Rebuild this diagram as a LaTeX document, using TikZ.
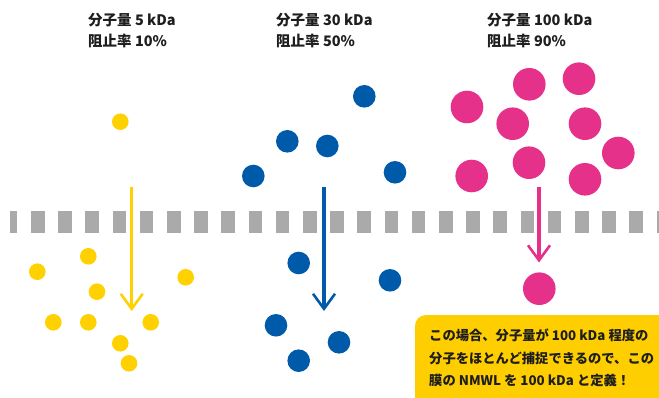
\documentclass[tikz,border=0pt]{standalone}
\usepackage{fontspec}
\setmainfont{Noto Sans CJK JP}
\usetikzlibrary{arrows.meta}
\definecolor{cyel}{RGB}{255,209,0}
\definecolor{cblue}{RGB}{0,90,170}
\definecolor{cpink}{RGB}{229,49,138}
\definecolor{cgray}{RGB}{170,170,170}
\definecolor{cbox}{RGB}{255,206,0}
\definecolor{ctext}{RGB}{30,30,30}
\tikzset{
  ydot/.style={circle,fill=cyel,inner sep=0pt,minimum size=16.6pt},
  bdot/.style={circle,fill=cblue,inner sep=0pt,minimum size=22.6pt},
  pdot/.style={circle,fill=cpink,inner sep=0pt,minimum size=32.6pt},
  pore/.style={fill=cgray},
  flow/.style={line width=3.2pt,-{Straight Barb[length=15pt,width=22pt,line width=2.6pt]}},
  head/.style={anchor=north west,align=left,font=\fontsize{14.5pt}{20.7pt}\selectfont\bfseries,text=ctext,inner sep=0pt},
  note/.style={anchor=north west,align=left,font=\fontsize{13.3pt}{22.5pt}\selectfont\bfseries,text=ctext,inner sep=0pt}
}
\begin{document}
\begin{tikzpicture}[x=1pt,y=-1pt]
\useasboundingbox (0,0) rectangle (659,398);
% membrane
\fill[pore] (10,211) rectangle (17.3,233.5);
\foreach \k in {0,...,23}{
  \fill[pore] ({31+27.2*\k},211) rectangle ({44.5+27.2*\k},233.5);
}
% headings
\node[head] (h1) at (88,13) {分子量 5 kDa\\阻止率 10\%};
\node[head] (h2) at (276,13) {分子量 30 kDa\\阻止率 50\%};
\node[head] (h3) at (487,13) {分子量 100 kDa\\阻止率 90\%};
% yellow
\node[ydot] (y1) at (120.3,121.7) {};
\node[ydot] (y2) at (88.3,256.3) {};
\node[ydot] (y3) at (37.3,271.7) {};
\node[ydot] (y4) at (185.7,277.3) {};
\node[ydot] (y5) at (97,291.7) {};
\node[ydot] (y6) at (53.3,322.3) {};
\node[ydot] (y7) at (88.3,322.3) {};
\node[ydot] (y8) at (150.7,322.3) {};
\node[ydot] (y9) at (120.3,343.3) {};
\node[ydot] (y10) at (129,363.3) {};
\coordinate (ya) at (131.7,187);
\coordinate (yb) at (131.7,311);
\draw[flow,cyel] (ya) -- (yb);
% blue
\node[bdot] (b1) at (364.3,96.3) {};
\node[bdot] (b2) at (287.3,141.3) {};
\node[bdot] (b3) at (327.3,146) {};
\node[bdot] (b4) at (253.3,176) {};
\node[bdot] (b5) at (395,172.3) {};
\node[bdot] (b6) at (298.7,263) {};
\node[bdot] (b7) at (390,280.3) {};
\node[bdot] (b8) at (276,325.3) {};
\node[bdot] (b9) at (339,342.3) {};
\node[bdot] (b10) at (298.7,360.7) {};
\coordinate (ba) at (324,187);
\coordinate (bb) at (324,311);
\draw[flow,cblue] (ba) -- (bb);
% pink
\node[pdot] (p1) at (529.3,84.3) {};
\node[pdot] (p2) at (579,78.7) {};
\node[pdot] (p3) at (467,107) {};
\node[pdot] (p4) at (512.7,123.7) {};
\node[pdot] (p5) at (585,123.7) {};
\node[pdot] (p6) at (618.3,153) {};
\node[pdot] (p7) at (529,162.7) {};
\node[pdot] (p8) at (471.7,176) {};
\node[pdot] (p9) at (585,179.3) {};
\node[pdot] (p10) at (539.3,288.7) {};
\coordinate (pa) at (539,187);
\coordinate (pb) at (539,262.5);
\draw[flow,cpink] (pa) -- (pb);
% note box
\fill[cbox,rounded corners=11pt] (415,315) rectangle (680,410);
\node[note] (n) at (429,329) {この場合、分子量が 100 kDa 程度の\\分子をほとんど捕捉できるので、この\\膜の NMWL を 100 kDa と定義！};
\end{tikzpicture}
\end{document}
